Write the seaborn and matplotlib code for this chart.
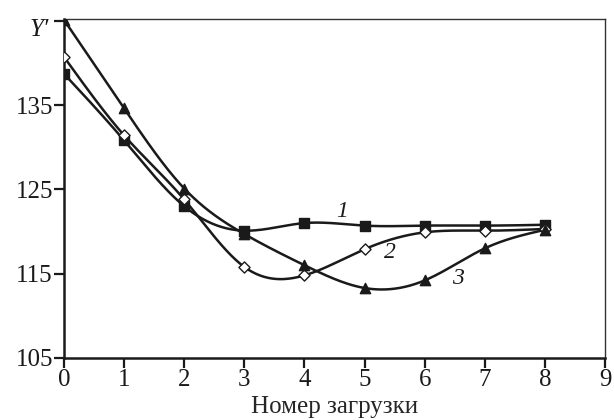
import numpy as np
import pandas as pd
import matplotlib
matplotlib.use("Agg")
import matplotlib.pyplot as plt
import matplotlib.transforms as mtransforms
import seaborn as sns

# ---- data ----
x_load = [0, 1, 2, 3, 4, 5, 6, 7, 8]
y_series1 = [138.7, 130.8, 123.0, 120.1, 121.0, 120.7, 120.7, 120.7, 120.8]
y_series2 = [140.7, 131.4, 123.8, 115.8, 114.8, 117.9, 119.9, 120.1, 120.3]
y_series3 = [145.1, 134.6, 125.1, 119.7, 116.0, 113.3, 114.2, 118.0, 120.2]
series_labels = ["1", "2", "3"]
y_ticks = [105, 115, 125, 135]
x_ticks = [0, 1, 2, 3, 4, 5, 6, 7, 8, 9]
x_label = "Номер загрузки"
y_label = "Y\u2032"


def natural_spline(x, y, n=300):
    x = np.asarray(x, float)
    y = np.asarray(y, float)
    m = len(x)
    h = np.diff(x)
    A = np.zeros((m, m))
    b = np.zeros(m)
    A[0, 0] = 1
    A[-1, -1] = 1
    for i in range(1, m - 1):
        A[i, i - 1] = h[i - 1]
        A[i, i] = 2 * (h[i - 1] + h[i])
        A[i, i + 1] = h[i]
        b[i] = 6 * ((y[i + 1] - y[i]) / h[i] - (y[i] - y[i - 1]) / h[i - 1])
    M = np.linalg.solve(A, b)
    xs = np.linspace(x[0], x[-1], n)
    idx = np.clip(np.searchsorted(x, xs) - 1, 0, m - 2)
    x0, x1 = x[idx], x[idx + 1]
    hh = x1 - x0
    ys = (M[idx] * (x1 - xs) ** 3 / (6 * hh) + M[idx + 1] * (xs - x0) ** 3 / (6 * hh)
          + (y[idx] / hh - M[idx] * hh / 6) * (x1 - xs)
          + (y[idx + 1] / hh - M[idx + 1] * hh / 6) * (xs - x0))
    return xs, ys


sns.set_style("ticks")
plt.rcParams["font.family"] = ["Liberation Serif", "DejaVu Serif"]

fig = plt.figure(figsize=(6.14, 4.2), dpi=100)
ax = fig.add_axes([64 / 614, (420 - 358) / 420, (605 - 64) / 614, (358 - 19) / 420])

series = [y_series1, y_series2, y_series3]
markers = ["s", "D", "^"]
faces = ["#1a1a1a", "white", "#1a1a1a"]
sizes = [42, 32, 55]

for ys_data, mk, fc, sz, lab in zip(series, markers, faces, sizes, series_labels):
    xs, ys = natural_spline(x_load, ys_data)
    line_df = pd.DataFrame({"x": xs, "y": ys})
    sns.lineplot(data=line_df, x="x", y="y", ax=ax, color="#1a1a1a", lw=1.8, zorder=2)
    pt_df = pd.DataFrame({"x": x_load, "y": ys_data})
    sns.scatterplot(data=pt_df, x="x", y="y", ax=ax, marker=mk, s=sz, color=fc,
                    edgecolor="#1a1a1a", linewidth=1.0, zorder=3)

label_pos = {"1": (4.63, 122.4), "2": (5.42, 117.5), "3": (6.56, 114.4)}
for lab in series_labels:
    lx, ly = label_pos[lab]
    ax.text(lx, ly, lab, fontsize=17, style="italic", ha="center", va="center", color="#1a1a1a")

ax.set_xlim(0, 9)
ax.set_ylim(105, 145.2)
ax.set_xticks(x_ticks)
ax.set_xticklabels([str(t) for t in x_ticks])
ax.set_yticks(y_ticks + [145])
ax.set_yticklabels([str(t) for t in y_ticks] + [""])
ax.set_xlabel(x_label, fontsize=18)
ax.xaxis.set_label_coords(0.5, -0.113)
ax.set_ylabel("")

trans = mtransforms.blended_transform_factory(ax.transAxes, ax.transData)
ax.text(-0.046, 143.9, y_label, transform=trans, fontsize=18, style="italic",
        ha="center", va="center", color="#1a1a1a")

ax.tick_params(axis="both", labelsize=18, length=7, width=1.6, color="#1a1a1a",
               labelcolor="#1a1a1a")
ax.tick_params(axis="x", pad=1)
ax.tick_params(axis="y", pad=1)
for side in ["left", "bottom"]:
    ax.spines[side].set_linewidth(1.8)
    ax.spines[side].set_color("#1a1a1a")
for side in ["top", "right"]:
    ax.spines[side].set_visible(True)
    ax.spines[side].set_linewidth(1.0)
    ax.spines[side].set_color("#333333")

fig.savefig("out.png", dpi=100)
